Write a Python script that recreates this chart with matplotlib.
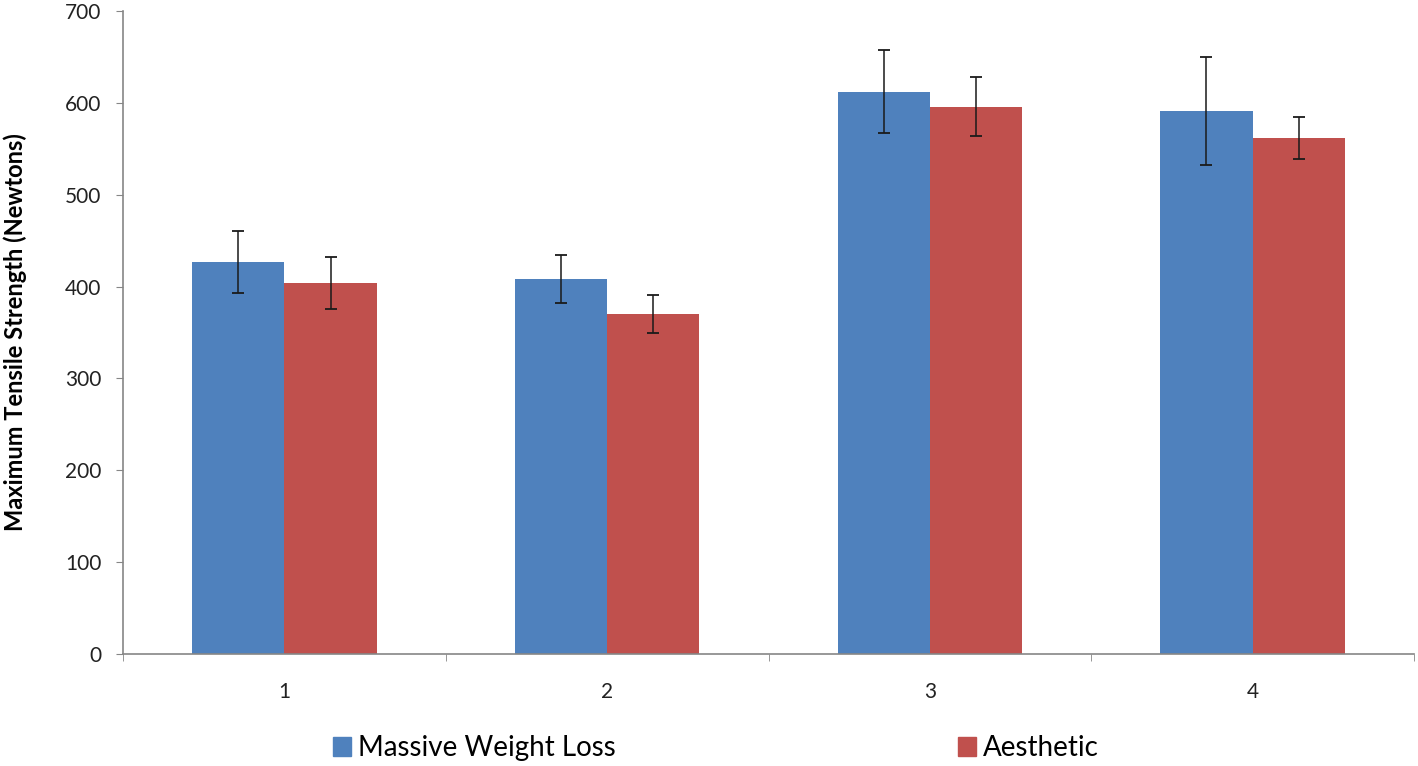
import matplotlib
matplotlib.use("Agg")
import matplotlib.pyplot as plt
import numpy as np
from matplotlib.patches import Patch
from matplotlib.ticker import FixedLocator

plt.rcParams['font.family'] = ['Lato', 'DejaVu Sans']

categories = ["1", "2", "3", "4"]
series_names = ["Massive Weight Loss", "Aesthetic"]
mwl_values = [427, 408, 612, 591]
mwl_errors = [34, 26, 45, 59]
aes_values = [404, 370, 596, 562]
aes_errors = [28, 21, 32, 23]
y_ticks = [0, 100, 200, 300, 400, 500, 600, 700]

blue = "#4F81BD"
red = "#C0504D"

fig = plt.figure(figsize=(14.18, 7.66), dpi=100)
ax = fig.add_axes([123/1418, 1 - 654/766, (1414 - 123)/1418, (654 - 11)/766])

x = np.arange(len(categories))
w = 0.286
ekw = dict(ecolor="#1a1a1a", elinewidth=1.1, capsize=4.5, capthick=1.3)
ax.bar(x - w/2, mwl_values, w, color=blue, yerr=mwl_errors, error_kw=ekw, zorder=2)
ax.bar(x + w/2, aes_values, w, color=red, yerr=aes_errors, error_kw=ekw, zorder=2)

ax.set_xlim(-0.5, len(categories) - 0.5)
ax.set_ylim(0, 700)
ax.set_yticks(y_ticks)
ax.set_xticks(x)
ax.set_xticklabels(categories)
ax.xaxis.set_minor_locator(FixedLocator(np.arange(len(categories) + 1) - 0.5))
ax.tick_params(axis='x', which='major', length=0, pad=20, labelsize=15, labelcolor="#222222")
ax.tick_params(axis='x', which='minor', length=5, color="#868686", direction='out')
ax.tick_params(axis='y', length=5, color="#868686", direction='out', labelsize=15,
               pad=10.5, labelcolor="#222222")

for s in ["top", "right"]:
    ax.spines[s].set_visible(False)
for s in ["left", "bottom"]:
    ax.spines[s].set_color("#868686")
    ax.spines[s].set_linewidth(1.2)

ax.set_ylabel("Maximum Tensile Strength (Newtons)", fontsize=17, fontweight='bold')
ax.yaxis.set_label_coords(-(123 - 15) / (1414 - 123), 0.5)
ax.yaxis.label.set_va('center')

leg_kw = dict(frameon=False, fontsize=20, handlelength=0.65, handleheight=0.65,
              handletextpad=0.25, borderpad=0, borderaxespad=0, loc='center left')
fig.legend(handles=[Patch(color=blue, label=series_names[0])],
           bbox_to_anchor=(333/1418, 1 - 748/766), **leg_kw)
fig.legend(handles=[Patch(color=red, label=series_names[1])],
           bbox_to_anchor=(958/1418, 1 - 748/766), **leg_kw)

fig.savefig("out.png", dpi=100)
